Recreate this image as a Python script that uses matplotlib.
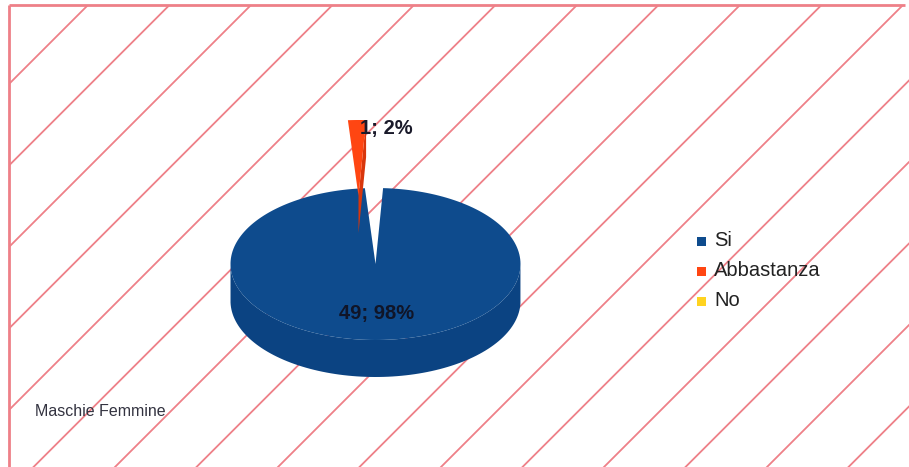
import numpy as np
import matplotlib
matplotlib.use("Agg")
import matplotlib.pyplot as plt
from matplotlib.patches import Polygon, Rectangle

plt.rcParams['font.family'] = ['Liberation Sans', 'DejaVu Sans']

# ---- data ----
categories = ["Si", "Abbastanza", "No"]
values = [49, 1, 0]
top_colors = ["#0E4B8D", "#FF4612", "#FFD320"]
side_colors = ["#0B4382", "#D8360C", "#D8B010"]
note_text = "Maschie Femmine"

# ---- style / geometry (pixels) ----
W, H = 909, 467
CX, CY = 375.5, 264.0
RX, RY = 145.0, 76.0
DEPTH = 37.0
START = 87.0          # degrees, slices go clockwise
EXPLODE = {1: (-17.0, -68.0)}
HATCH_COLOR = "#EE8088"
FRAME = (9, 5, 940, 500)

fig = plt.figure(figsize=(W / 100, H / 100), dpi=100)
ax = fig.add_axes([0, 0, 1, 1])
ax.set_xlim(0, W)
ax.set_ylim(H, 0)
ax.axis("off")

# background hatch
x0, y0, x1, y1 = FRAME
clip = Rectangle((x0, y0), x1 - x0, y1 - y0, transform=ax.transData)
spacing = 81.5
c0 = 93.0
for k in range(-20, 30):
    c = c0 + spacing * k
    ys = np.array([-50, 600])
    xs = c - ys
    ln, = ax.plot(xs, ys, color=HATCH_COLOR, lw=1.3, zorder=1)
    ln.set_clip_path(clip)
ax.plot([x0, x0], [y0, H + 5], color=HATCH_COLOR, lw=2.0, zorder=2, solid_capstyle="butt")
ax.plot([x0, 905], [y0, y0], color=HATCH_COLOR, lw=2.0, zorder=2, solid_capstyle="butt")


def pt(theta_deg, cx, cy, r=1.0):
    t = np.radians(theta_deg)
    return cx + RX * r * np.cos(t), cy - RY * r * np.sin(t)


total = float(sum(values))
angles = []
a = START
for v in values:
    span = 360.0 * v / total
    angles.append((a - span, a))   # (from, to) in ccw terms
    a -= span

z = 3
for i, (v, (a_lo, a_hi)) in enumerate(zip(values, angles)):
    if v <= 0:
        continue
    dx, dy = EXPLODE.get(i, (0.0, 0.0))
    cx, cy = CX + dx, CY + dy
    th = np.linspace(a_lo, a_hi, 200)
    # outer side face (front half only)
    thn = np.mod(th, 360)
    front = th[(thn >= 180) & (thn <= 360)]
    if len(front) > 1:
        xs, ys = pt(front, cx, cy)
        poly = np.concatenate([np.column_stack([xs, ys]),
                               np.column_stack([xs[::-1], ys[::-1] + DEPTH])])
        ax.add_patch(Polygon(poly, closed=True, fc=side_colors[i], ec="none", zorder=z))
    # radial side faces for small exploded slices
    if i in EXPLODE:
        ex, ey = pt(a_lo, cx, cy)
        quad = [(cx, cy), (ex, ey), (ex, ey + DEPTH), (cx, cy + DEPTH)]
        ax.add_patch(Polygon(quad, closed=True, fc=side_colors[i], ec="none", zorder=z))
    # top face
    xs, ys = pt(th, cx, cy)
    poly = np.concatenate([[[cx, cy]], np.column_stack([xs, ys])])
    ax.add_patch(Polygon(poly, closed=True, fc=top_colors[i], ec="none", zorder=z + 1))
    z += 2

# labels
for i, (v, (a_lo, a_hi)) in enumerate(zip(values, angles)):
    if v <= 0:
        continue
    pct = round(100 * v / total)
    txt = f"{v}; {pct}%"
    mid = (a_lo + a_hi) / 2
    dx, dy = EXPLODE.get(i, (0.0, 0.0))
    if i in EXPLODE:
        ox, oy = pt(a_lo, CX + dx, CY + dy)
        ax.text(ox - 6, oy + 8, txt, fontsize=14.5, fontweight="bold",
                color="#1A1A2A", ha="left", va="center", zorder=20)
    else:
        lx, ly = pt(mid, CX, CY, 0.65)
        ax.text(lx, ly, txt, fontsize=14.5, fontweight="bold",
                color="#101528", ha="center", va="center", zorder=20)

# legend
for i, cat in enumerate(categories):
    yy = 241 + 30 * i
    ax.add_patch(Rectangle((697, yy - 4.5), 9, 9, fc=top_colors[i], ec="none", zorder=20))
    ax.text(714, yy, cat, fontsize=14.5, color="#222222", ha="left", va="center", zorder=20)

ax.text(35, 411, note_text, fontsize=11.5, color="#333340", ha="left", va="center", zorder=20)

fig.savefig("out.png", dpi=100)
